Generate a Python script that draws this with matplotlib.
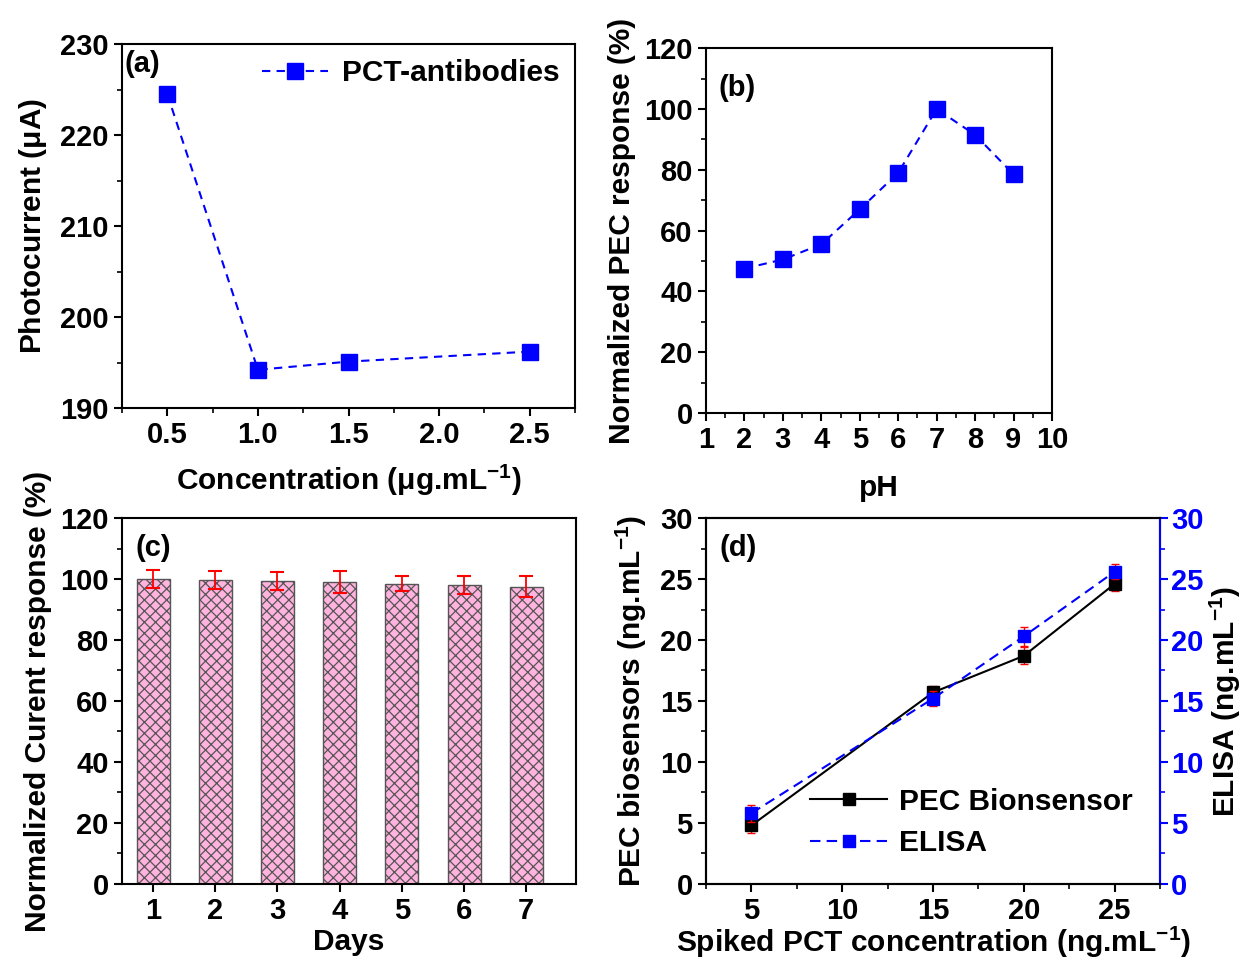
import numpy as np
import matplotlib
matplotlib.use("Agg")
import matplotlib.pyplot as plt
from matplotlib.ticker import MultipleLocator
from matplotlib.lines import Line2D

plt.rcParams['font.family'] = ['Liberation Sans', 'DejaVu Sans']
plt.rcParams['font.weight'] = 'bold'
plt.rcParams['axes.labelweight'] = 'bold'
plt.rcParams['mathtext.fontset'] = 'custom'
plt.rcParams['mathtext.rm'] = 'Liberation Sans:bold'
plt.rcParams['mathtext.it'] = 'Liberation Sans:bold'
plt.rcParams['mathtext.bf'] = 'Liberation Sans:bold'
plt.rcParams['mathtext.default'] = 'rm'
plt.rcParams['hatch.color'] = '#3a2a33'
plt.rcParams['hatch.linewidth'] = 0.9

# (a) antibody concentration
conc = [0.5, 1.0, 1.5, 2.5]
photocurrent = [224.5, 194.2, 195.1, 196.2]

# (b) pH
ph = [2, 3, 4, 5, 6, 7, 8, 9]
ph_response = [47.5, 50.5, 55.5, 67.0, 79.0, 100.0, 91.5, 78.5]

# (c) stability
days = [1, 2, 3, 4, 5, 6, 7]
stab_response = [100.0, 99.7, 99.4, 99.0, 98.5, 98.0, 97.5]
stab_err = [3.0, 3.0, 3.0, 3.5, 2.5, 3.0, 3.5]

# (d) spiked samples
spiked = [5, 15, 20, 25]
pec = [4.8, 15.7, 18.7, 24.6]
pec_err = [0.6, 0.5, 0.7, 0.6]
elisa = [5.8, 15.2, 20.3, 25.6]
elisa_err = [0.7, 0.6, 0.8, 0.6]

BLUE = '#0000ff'
FS = 21      # tick labels
LFS = 21.5   # axis labels

fig = plt.figure(figsize=(12.46, 9.6), dpi=100)
ax_a = fig.add_axes([0.0979, 0.575, 0.3636, 0.379])
ax_b = fig.add_axes([0.5666, 0.5698, 0.2777, 0.380])
ax_c = fig.add_axes([0.0979, 0.0792, 0.3644, 0.3812])
ax_d = fig.add_axes([0.5666, 0.0792, 0.3644, 0.3812])


def style(ax):
    for s in ax.spines.values():
        s.set_linewidth(1.5)
    ax.tick_params(which='major', direction='out', length=6, width=1.5, labelsize=FS)
    ax.tick_params(which='minor', direction='out', length=3.5, width=1.2)
    for lab in ax.get_xticklabels() + ax.get_yticklabels():
        lab.set_fontweight('bold')


# panel a
ax_a.plot(conc, photocurrent, ls='--', dashes=(4, 3), color=BLUE, lw=1.5,
          marker='s', ms=11, label='PCT-antibodies')
ax_a.set_xlim(0.25, 2.75)
ax_a.set_ylim(190, 230)
ax_a.set_xticks([0.5, 1.0, 1.5, 2.0, 2.5])
ax_a.xaxis.set_minor_locator(MultipleLocator(0.25))
ax_a.yaxis.set_major_locator(MultipleLocator(10))
ax_a.yaxis.set_minor_locator(MultipleLocator(5))
ax_a.set_xlabel(r'Concentration ($\mu$g.mL$^{-1}$)', fontsize=LFS, labelpad=10)
ax_a.set_ylabel(r'Photocurrent ($\mu$A)', fontsize=LFS, labelpad=8)
ax_a.legend(loc='upper right', frameon=False, fontsize=LFS, handlelength=2.2,
            borderaxespad=0.1, handletextpad=0.5)
ax_a.text(0.005, 0.985, '(a)', transform=ax_a.transAxes, fontsize=FS,
          fontweight='bold', va='top', ha='left')
style(ax_a)

# panel b
ax_b.plot(ph, ph_response, ls='--', dashes=(4, 3), color=BLUE, lw=1.5,
          marker='s', ms=11)
ax_b.set_xlim(1, 10)
ax_b.set_ylim(0, 120)
ax_b.xaxis.set_major_locator(MultipleLocator(1))
ax_b.xaxis.set_minor_locator(MultipleLocator(0.5))
ax_b.yaxis.set_major_locator(MultipleLocator(20))
ax_b.yaxis.set_minor_locator(MultipleLocator(10))
ax_b.set_xlabel('pH', fontsize=LFS, labelpad=14)
ax_b.set_ylabel('Normalized PEC response (%)', fontsize=LFS, labelpad=6)
ax_b.text(0.035, 0.93, '(b)', transform=ax_b.transAxes, fontsize=FS,
          fontweight='bold', va='top', ha='left')
style(ax_b)

# panel c
ax_c.bar(days, stab_response, width=0.53, color='#ffb3de', edgecolor='#555555',
         linewidth=1.0, hatch='xxx', zorder=2)
ax_c.errorbar(days, stab_response, yerr=stab_err, fmt='none', ecolor='red',
              elinewidth=1.3, capsize=5, capthick=1.5, zorder=3)
ax_c.set_xlim(0.5, 7.8)
ax_c.set_ylim(0, 120)
ax_c.set_xticks(days)
ax_c.yaxis.set_major_locator(MultipleLocator(20))
ax_c.yaxis.set_minor_locator(MultipleLocator(10))
ax_c.set_xlabel('Days', fontsize=LFS, labelpad=2)
ax_c.set_ylabel('Normalized Curent response (%)', fontsize=LFS, labelpad=6)
ax_c.text(0.03, 0.955, '(c)', transform=ax_c.transAxes, fontsize=FS,
          fontweight='bold', va='top', ha='left')
style(ax_c)

# panel d
ax_d.errorbar(spiked, pec, yerr=pec_err, color='black', lw=1.5, marker='s', ms=9,
              ecolor='red', elinewidth=1.0, capsize=3, capthick=1.0, zorder=3)
ax_d2 = ax_d.twinx()
ax_d2.errorbar(spiked, elisa, yerr=elisa_err, color=BLUE, lw=1.5, ls='--',
               dashes=(5, 3), marker='s', ms=9, ecolor='red', elinewidth=1.0,
               capsize=3, capthick=1.0, zorder=3)
ax_d.set_xlim(2.5, 27.5)
ax_d.set_ylim(0, 30)
ax_d2.set_ylim(0, 30)
ax_d.xaxis.set_major_locator(MultipleLocator(5))
ax_d.xaxis.set_minor_locator(MultipleLocator(2.5))
for a in (ax_d, ax_d2):
    a.yaxis.set_major_locator(MultipleLocator(5))
    a.yaxis.set_minor_locator(MultipleLocator(2.5))
ax_d.set_xlabel(r'Spiked PCT concentration (ng.mL$^{-1}$)', fontsize=LFS, labelpad=0)
ax_d.set_ylabel(r'PEC biosensors (ng.mL$^{-1}$)', fontsize=LFS, labelpad=8)
ax_d2.set_ylabel(r'ELISA (ng.mL$^{-1}$)', fontsize=LFS, labelpad=3)
ax_d.text(0.03, 0.955, '(d)', transform=ax_d.transAxes, fontsize=FS,
          fontweight='bold', va='top', ha='left')
style(ax_d)
style(ax_d2)
ax_d2.spines['right'].set_color(BLUE)
ax_d2.tick_params(axis='y', which='both', colors=BLUE, pad=2)
for lab in ax_d2.get_yticklabels():
    lab.set_color(BLUE)

handles = [
    Line2D([], [], color='black', lw=1.5, marker='s', ms=9),
    Line2D([], [], color=BLUE, lw=1.5, ls='--', dashes=(5, 3), marker='s', ms=9),
]
ax_d2.legend(handles, ['PEC Bionsensor', 'ELISA'], loc='lower right',
             bbox_to_anchor=(1.0, 0.0), frameon=False, fontsize=LFS,
             handlelength=2.6, handletextpad=0.4, labelspacing=0.45)

fig.savefig('out.png', dpi=100)
